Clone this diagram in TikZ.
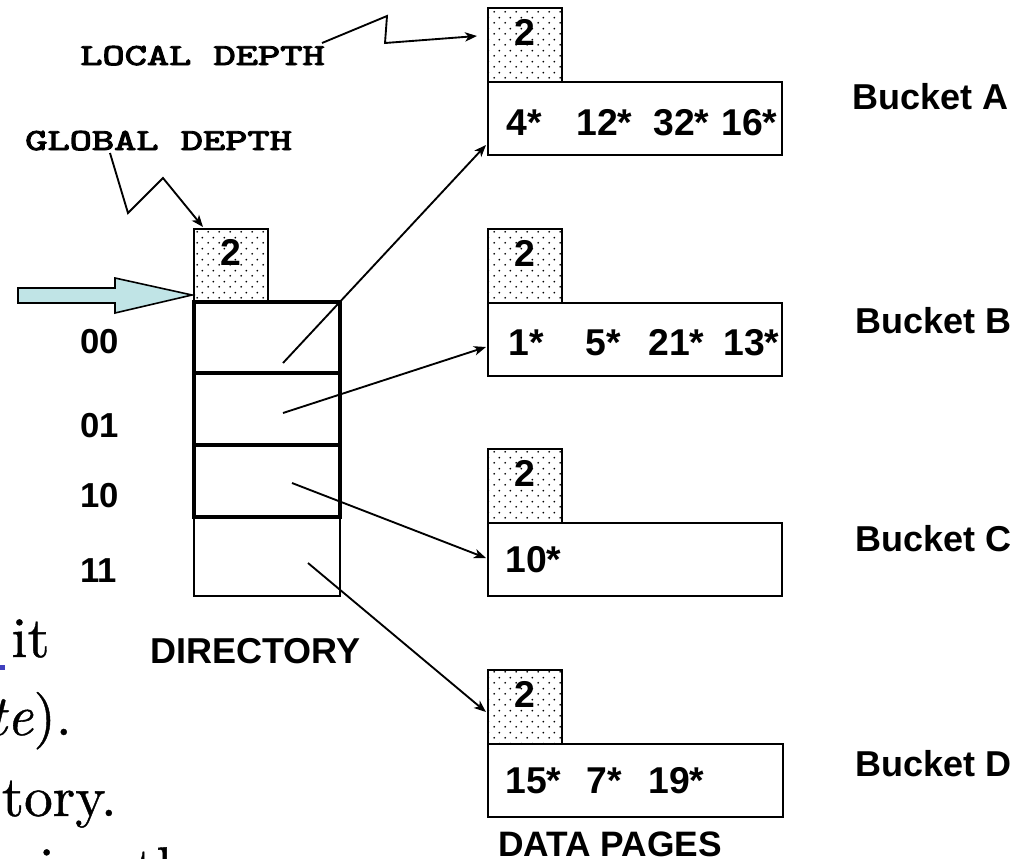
\documentclass[tikz,border=0pt]{standalone}
\usepackage{fontspec}
\usepackage{graphicx}
\setsansfont{Liberation Sans}
\newfontfamily\monobold{lmmono10-regular.otf}[FakeBold=3]
\newfontfamily\slidefont{lmroman10-regular.otf}[FakeBold=0.7,ItalicFont=lmroman10-italic.otf]
\usetikzlibrary{patterns,fit,arrows.meta}
\pgfdeclarepatternformonly{sparsedots}{\pgfqpoint{-1pt}{-1pt}}{\pgfqpoint{7.25pt}{7.25pt}}{\pgfqpoint{8.25pt}{8.25pt}}{%
  \pgfpathcircle{\pgfqpoint{0pt}{0pt}}{0.8pt}%
  \pgfpathcircle{\pgfqpoint{4.125pt}{4.125pt}}{0.8pt}%
  \pgfusepath{fill}}
\definecolor{arrowcyan}{RGB}{192,228,230}
\definecolor{linkblue}{RGB}{64,64,190}
\newcommand{\fsz}[1]{\fontsize{#1}{#1}\selectfont}
\begin{document}
\begin{tikzpicture}[x=0.75pt,y=-0.75pt,
  box/.style={draw, line width=1.5pt, inner sep=0pt, fill=white},
  dirrow/.style={draw, line width=2.6pt, inner sep=0pt},
  depthbox/.style={draw, line width=1.5pt, inner sep=0pt, pattern=sparsedots,
    font=\sffamily\bfseries\fsz{28}},
  entry/.style={anchor=base west, inner sep=0pt, font=\sffamily\bfseries\fsz{28}},
  lbl/.style={anchor=base west, inner sep=0pt, font=\sffamily\bfseries\fsz{26}},
  bucketlbl/.style={anchor=base west, inner sep=0pt, font=\sffamily\bfseries\fsz{27}},
  mono/.style={anchor=base west, inner sep=0pt, font=\monobold\fsz{23}},
  slide/.style={anchor=base east, inner sep=0pt, font=\slidefont\fsz{43}},
  conn/.style={line width=1.4pt, -{Stealth[length=9pt,width=7pt,inset=2.5pt]}},
]
\useasboundingbox (0,0) rectangle (1032,858);
\clip (0,0) rectangle (1032,858);
\fill[white] (0,0) rectangle (1032,858);

% leftover slide text
\node[slide] (s1) at (50,657) {it};
\node[slide] (s2) at (72,735) {\textit{te}).};
\node[slide] (s3) at (117,816) {tory.};
\node[anchor=base west, inner sep=0pt, font=\slidefont\fsz{43}] (s4) at (-16,887) {using the};
\fill[linkblue] (0,665) rectangle (5,670);

% directory
\node[depthbox, fit={(194,229) (268,302)}] (gd) {2};
\node[box, fit={(194,517) (340,596)}] (r11) {};
\node[dirrow, fit={(194,445) (340,517)}] (r10) {};
\node[dirrow, fit={(194,373) (340,445)}] (r01) {};
\node[dirrow, fit={(194,302) (340,373)}] (r00) {};

\node[lbl] (l00) at (80,353) {00};
\node[lbl] (l01) at (80,437) {01};
\node[lbl] (l10) at (80,507) {10};
\node[lbl] (l11) at (80,582) {11};
\node[anchor=base west, inner sep=0pt, font=\sffamily\bfseries\fsz{27}] (dir) at (150,663) {DIRECTORY};

% big arrow
\draw[line width=1.2pt, fill=arrowcyan, line join=miter]
  (18,288) -- (115,288) -- (115,278) -- (192,295) -- (115,313) -- (115,303) -- (18,303) -- cycle;

% buckets
\node[box, fit={(488,82) (782,155)}] (bA) {};
\node[depthbox, fit={(488,8) (562,82)}] (dA) {2};
\node[box, fit={(488,303) (782,376)}] (bB) {};
\node[depthbox, fit={(488,229) (562,303)}] (dB) {2};
\node[box, fit={(488,523) (782,596)}] (bC) {};
\node[depthbox, fit={(488,449) (562,523)}] (dC) {2};
\node[box, fit={(488,744) (783,817)}] (bD) {};
\node[depthbox, fit={(488,670) (562,744)}] (dD) {2};

\node[entry] (a1) at (506,135) {4*};
\node[entry] (a2) at (576,135) {12*};
\node[entry] (a3) at (653,135) {32*};
\node[entry] (a4) at (721,135) {16*};
\node[entry] (b1) at (508,355) {1*};
\node[entry] (b2) at (585,355) {5*};
\node[entry] (b3) at (648,355) {21*};
\node[entry] (b4) at (723,355) {13*};
\node[entry] (c1) at (505,572) {10*};
\node[entry] (d1) at (505,793) {15*};
\node[entry] (d2) at (586,793) {7*};
\node[entry] (d3) at (648,793) {19*};

\node[bucketlbl] (nA) at (852,109) {Bucket A};
\node[bucketlbl] (nB) at (855,333) {Bucket B};
\node[bucketlbl] (nC) at (855,551) {Bucket C};
\node[bucketlbl] (nD) at (855,776) {Bucket D};
\node[anchor=base west, inner sep=0pt, font=\sffamily\bfseries\fsz{26.5}] (dp) at (498,856) {DATA PAGES};

% depth labels
\node[mono] (ld) at (80,65) {\scalebox{1.38}[1]{LOCAL DEPTH}};
\node[mono] (gdl) at (25,150) {\scalebox{1.38}[1]{GLOBAL DEPTH}};

% connectors
\coordinate (s00) at (283,363);
\coordinate (s01) at (283,413);
\coordinate (s10) at (292,483);
\coordinate (s11) at (308,563);
\coordinate (tA) at (486,145);
\coordinate (tB) at (486,347);
\coordinate (tC) at (486,558);
\coordinate (tD) at (486,712);
\draw[conn] (s00) -- (tA);
\draw[conn] (s01) -- (tB);
\draw[conn] (s10) -- (tC);
\draw[conn] (s11) -- (tD);

\coordinate (ldz) at (322,43);
\coordinate (ldt) at (477,36);
\draw[conn] (ldz) -- (387,16) -- (385,43) -- (ldt);
\coordinate (gdz) at (110,153);
\coordinate (gdt) at (203,227);
\draw[conn] (gdz) -- (128,213) -- (163,178) -- (gdt);
\end{tikzpicture}
\end{document}
